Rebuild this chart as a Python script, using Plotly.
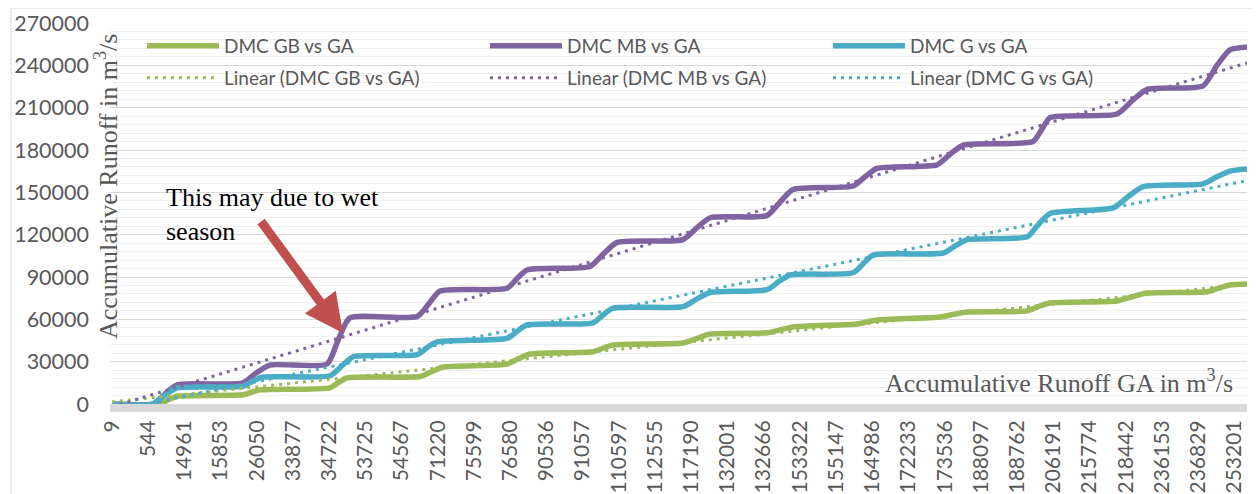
import plotly.graph_objects as go

# Category labels (accumulative runoff GA) shown on the x axis, one per tick position
ga_labels = ["9", "544", "14961", "15853", "26050", "33877", "34722", "53725", "54567",
             "71220", "75599", "76580", "90536", "91057", "110597", "112555", "117190",
             "132001", "132666", "153322", "155147", "164986", "172233", "173536",
             "188097", "188762", "206191", "215774", "218442", "236153", "236829", "253201"]

# Series: position along the category axis (in label steps) and accumulative runoff
gb_pos = [0, 1.33, 1.55, 1.80, 3.62, 3.87, 4.09, 6.02, 6.24, 6.49, 8.51, 8.84, 9.14, 10.91,
          11.22, 11.55, 13.29, 13.56, 13.84, 15.77, 16.16, 16.52, 18.09, 18.45, 18.81, 20.58,
          20.86, 21.13, 22.87, 23.23, 23.62, 25.28, 25.58, 25.91, 27.76, 28.18, 28.59, 30.25,
          30.55, 30.88, 31.35]
gb_vals = [0, 0, 3000, 5500, 6500, 8500, 10000, 11500, 15000, 18500, 19500, 23000, 26200,
           28300, 32000, 35400, 37000, 39500, 41800, 43200, 46500, 49600, 50500, 52500, 54600,
           56700, 58200, 59500, 61700, 63500, 65200, 66000, 69000, 71600, 73000, 76000, 78600,
           79500, 82000, 84300, 85000]

mb_pos = [0, 1.13, 1.46, 1.80, 3.62, 3.98, 4.36, 5.94, 6.24, 6.57, 8.43, 8.78, 9.06, 10.91,
          11.19, 11.46, 13.20, 13.56, 13.95, 15.77, 16.16, 16.52, 18.09, 18.45, 18.81, 20.47,
          20.80, 21.13, 22.79, 23.15, 23.51, 25.44, 25.69, 25.91, 27.76, 28.18, 28.59, 30.14,
          30.52, 30.88, 31.35]
mb_vals = [0, 0, 7000, 13500, 15000, 22000, 27600, 28300, 45000, 61000, 62000, 72000, 80000,
           82000, 89000, 95000, 97500, 106000, 114500, 116500, 125000, 132000, 133500, 143000,
           152000, 154500, 161000, 167000, 169500, 177000, 183500, 186000, 195000, 203000,
           205500, 215000, 223000, 225500, 240000, 251000, 253000]

g_pos = [0, 1.13, 1.46, 1.80, 3.62, 3.87, 4.14, 6.02, 6.35, 6.66, 8.43, 8.70, 8.98, 10.91,
         11.19, 11.46, 13.29, 13.56, 13.84, 15.77, 16.16, 16.52, 18.09, 18.40, 18.73, 20.47,
         20.75, 21.02, 22.96, 23.29, 23.62, 25.28, 25.58, 25.91, 27.65, 28.07, 28.48, 30.14,
         30.52, 30.88, 31.35]
g_vals = [0, 0, 6500, 11500, 12500, 16000, 19000, 20000, 27000, 33500, 35000, 40000, 44000,
          46500, 51500, 56000, 57500, 63000, 68000, 69000, 74500, 79000, 81000, 86500, 91400,
          93000, 99500, 105500, 107000, 112000, 116500, 118500, 127000, 135000, 139000,
          147000, 154000, 156000, 161000, 165000, 166500]

# Linear trend lines (start / end values)
trend_pos = [0, 31.35]
gb_trend = [1500, 85000]
mb_trend = [-2000, 241700]
g_trend = [-5000, 158300]

GREEN, PURPLE, TEAL = "#9bbb59", "#8064a2", "#4bacc6"
GRAY_TXT = "#595959"
FONT = "Lato"

fig = go.Figure()
for name, xs, ys, col in [("DMC GB vs GA", gb_pos, gb_vals, GREEN),
                          ("DMC MB vs GA", mb_pos, mb_vals, PURPLE),
                          ("DMC G vs GA", g_pos, g_vals, TEAL)]:
    fig.add_trace(go.Scatter(x=xs, y=ys, mode="lines", name=name, legend="legend",
                             line=dict(color=col, width=5.5, shape="spline", smoothing=0.6)))
for name, ys, col in [("Linear (DMC GB vs GA)", gb_trend, GREEN),
                      ("Linear (DMC MB vs GA)", mb_trend, PURPLE),
                      ("Linear (DMC G vs GA)", g_trend, TEAL)]:
    fig.add_trace(go.Scatter(x=trend_pos, y=ys, mode="lines", name=name, legend="legend2",
                             line=dict(color=col, width=3, dash="3px,5px")))

# The page body has an 8px default margin, so the figure is sized to fill the window
OFF = 8
W, H = 1260 - OFF, 494 - OFF
L, R, T, B = 110 - OFF, 13, 23 - OFF, 90
pw, ph = W - L - R, H - T - B


def px_x(px):  # window pixel -> paper x
    return (px - OFF - L) / pw


def px_y(py):  # window pixel -> paper y
    return (H - B - (py - OFF)) / ph


leg_common = dict(orientation="h", x=px_x(142), xanchor="left", yanchor="middle",
                  entrywidth=256, font=dict(size=19, color=GRAY_TXT, family=FONT),
                  bgcolor="rgba(0,0,0,0)", itemwidth=72, tracegroupgap=0)

fig.update_layout(
    width=W, height=H,
    margin=dict(l=L, r=R, t=T, b=B, autoexpand=False),
    paper_bgcolor="white", plot_bgcolor="white",
    font=dict(family=FONT, color=GRAY_TXT),
    legend=dict(y=px_y(46), **leg_common),
    legend2=dict(y=px_y(78), **leg_common),
    xaxis=dict(range=[-0.055, 31.35], tickmode="array", tickvals=list(range(len(ga_labels))),
               ticktext=ga_labels, tickangle=-90, showgrid=False, zeroline=False,
               showline=True, linecolor="#d9d9d9", linewidth=8, ticks="", automargin=False,
               tickfont=dict(size=21, color=GRAY_TXT, family=FONT)),
    yaxis=dict(range=[0, 270000], dtick=30000, tickformat="d", showgrid=True,
               gridcolor="#d9d9d9", gridwidth=1.3, zeroline=False, ticks="",
               ticklabelstandoff=20, automargin=False,
               tickfont=dict(size=21.5, color=GRAY_TXT, family=FONT),
               minor=dict(dtick=6000, showgrid=True, gridcolor="#efefef", gridwidth=1)),
    showlegend=True,
)

fig.add_annotation(text="Accumulative Runoff in m<sup>3</sup>/s", xref="paper", yref="paper",
                   x=px_x(106), y=px_y(187), textangle=-90, showarrow=False,
                   xanchor="center", yanchor="middle",
                   font=dict(family="Liberation Serif", size=26, color=GRAY_TXT))
fig.add_annotation(text="Accumulative Runoff GA in m<sup>3</sup>/s", xref="paper", yref="paper",
                   x=px_x(1059), y=px_y(381), showarrow=False,
                   xanchor="center", yanchor="middle",
                   font=dict(family="Liberation Serif", size=26, color=GRAY_TXT))
fig.add_annotation(text="This may due to wet<br>season", xref="paper", yref="paper",
                   x=px_x(164), y=px_y(181), showarrow=False, align="left",
                   xanchor="left", yanchor="top",
                   font=dict(family="Liberation Serif", size=26, color="black"))
fig.add_annotation(text="", x=6.38, y=50300, xref="x", yref="y", showarrow=True,
                   ax=-83, ay=-113, arrowcolor="#c0504d", arrowwidth=9, arrowhead=2,
                   arrowsize=0.85, standoff=0)

fig.add_shape(type="rect", xref="paper", yref="paper", x0=px_x(11), x1=px_x(1270),
              y0=px_y(520), y1=px_y(8), line=dict(color="#d9d9d9", width=1), layer="below")

fig.write_html("out.html")
